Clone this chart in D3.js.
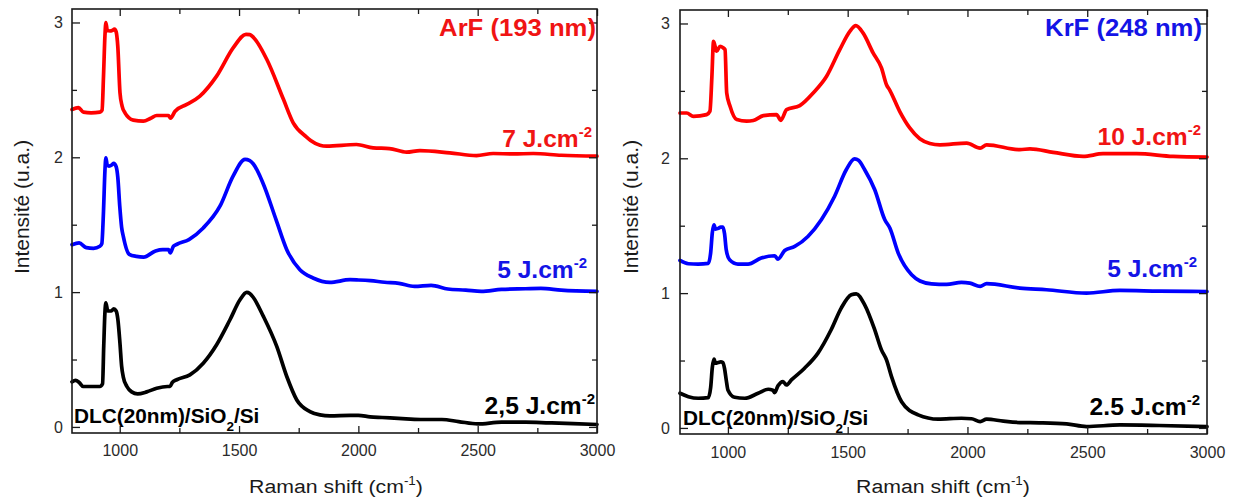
<!DOCTYPE html>
<html>
<head>
<meta charset="utf-8">
<script src="https://cdn.jsdelivr.net/npm/d3@7"></script>
<style>
  html, body { margin: 0; padding: 0; background: #fff; }
  svg { display: block; font-family: "Liberation Sans", Arial, sans-serif; }
</style>
</head>
<body>
<svg id="chart" width="1234" height="501"></svg>
<script>
// ---------------- DATA ----------------
const xMajorTicks = [1000, 1500, 2000, 2500, 3000];
const xMinorTicks = [1250, 1750, 2250, 2750];
const yMajorTicks = [0, 1, 2, 3];
const yMinorTicks = [0.5, 1.5, 2.5];

// ArF (193 nm) panel
const arfTitle = "ArF (193 nm)";
const arfLabels = ["2,5 J.cm", "5 J.cm", "7 J.cm"];

const arf25_x = [800, 815, 830, 847, 880, 917, 928, 933, 938, 942, 950, 965, 975, 985, 992, 1001, 1008, 1015, 1030, 1050, 1075, 1113, 1155, 1200, 1211, 1220, 1239, 1294, 1350, 1406, 1462, 1504, 1532, 1545, 1560, 1602, 1658, 1700, 1742, 1797, 1839, 1881, 1965, 2000, 2049, 2100, 2200, 2270, 2350, 2420, 2500, 2600, 2700, 2800, 2900, 3000];
const arf25_y = [0.335, 0.345, 0.33, 0.30, 0.30, 0.30, 0.32, 0.60, 0.85, 0.92, 0.86, 0.86, 0.875, 0.86, 0.80, 0.62, 0.45, 0.37, 0.30, 0.26, 0.245, 0.26, 0.287, 0.30, 0.30, 0.33, 0.35, 0.386, 0.473, 0.61, 0.795, 0.943, 0.998, 0.99, 0.96, 0.82, 0.597, 0.374, 0.20, 0.114, 0.089, 0.082, 0.085, 0.085, 0.075, 0.07, 0.06, 0.055, 0.055, 0.04, 0.022, 0.035, 0.035, 0.03, 0.025, 0.018];

const arf5_x = [800, 830, 860, 890, 917, 925, 932, 938, 942, 948, 955, 968, 975, 985, 992, 1000, 1008, 1015, 1040, 1070, 1100, 1150, 1180, 1205, 1212, 1225, 1240, 1290, 1350, 1420, 1475, 1525, 1545, 1560, 1600, 1655, 1700, 1755, 1810, 1880, 1965, 2000, 2050, 2110, 2170, 2235, 2305, 2375, 2450, 2515, 2600, 2700, 2765, 2850, 3000];
const arf5_y = [1.352, 1.365, 1.33, 1.325, 1.34, 1.36, 1.60, 1.90, 1.996, 1.94, 1.935, 1.945, 1.955, 1.93, 1.85, 1.64, 1.48, 1.414, 1.28, 1.265, 1.26, 1.305, 1.315, 1.315, 1.29, 1.34, 1.355, 1.39, 1.476, 1.637, 1.86, 1.984, 1.975, 1.95, 1.81, 1.538, 1.315, 1.166, 1.105, 1.072, 1.092, 1.09, 1.085, 1.073, 1.065, 1.042, 1.05, 1.023, 1.015, 1.005, 1.02, 1.025, 1.028, 1.015, 1.005];

const arf7_x = [800, 827, 848, 880, 917, 926, 932, 938, 942, 948, 959, 968, 978, 985, 992, 1001, 1010, 1022, 1057, 1099, 1130, 1155, 1204, 1213, 1232, 1281, 1336, 1406, 1476, 1529, 1545, 1560, 1616, 1686, 1727, 1783, 1800, 1839, 1867, 1992, 2062, 2130, 2202, 2258, 2383, 2495, 2565, 2650, 2733, 2850, 3000];
const arf7_y = [2.355, 2.368, 2.335, 2.33, 2.335, 2.35, 2.60, 2.90, 3.0, 2.94, 2.937, 2.94, 2.95, 2.93, 2.82, 2.48, 2.38, 2.33, 2.276, 2.268, 2.29, 2.31, 2.31, 2.29, 2.342, 2.392, 2.454, 2.602, 2.813, 2.912, 2.91, 2.89, 2.727, 2.43, 2.256, 2.15, 2.125, 2.09, 2.083, 2.095, 2.07, 2.065, 2.038, 2.05, 2.033, 2.013, 2.028, 2.025, 2.028, 2.015, 2.008];

// KrF (248 nm) panel
const krfTitle = "KrF (248 nm)";
const krfLabels = ["2.5 J.cm", "5 J.cm", "10 J.cm"];

const krf25_x = [800, 835, 876, 918, 928, 935, 942, 948, 960, 970, 979, 986, 993, 1000, 1028, 1070, 1126, 1168, 1188, 1195, 1209, 1230, 1244, 1265, 1320, 1376, 1431, 1473, 1515, 1536, 1571, 1613, 1641, 1662, 1683, 1725, 1794, 1878, 1975, 2017, 2053, 2080, 2150, 2219, 2300, 2414, 2497, 2636, 2800, 3000];
const krf25_y = [0.257, 0.232, 0.22, 0.225, 0.30, 0.45, 0.51, 0.48, 0.485, 0.49, 0.485, 0.44, 0.356, 0.282, 0.228, 0.22, 0.257, 0.287, 0.28, 0.262, 0.312, 0.344, 0.319, 0.356, 0.443, 0.555, 0.728, 0.889, 0.988, 0.995, 0.913, 0.728, 0.579, 0.505, 0.381, 0.195, 0.097, 0.065, 0.072, 0.068, 0.047, 0.065, 0.05, 0.04, 0.038, 0.03, 0.01, 0.022, 0.018, 0.01];

const krf5_x = [800, 835, 876, 918, 928, 935, 942, 948, 960, 970, 979, 986, 993, 1007, 1042, 1084, 1139, 1195, 1209, 1237, 1279, 1334, 1390, 1445, 1494, 1529, 1545, 1571, 1613, 1655, 1676, 1711, 1767, 1802, 1850, 1913, 1975, 2010, 2053, 2080, 2219, 2330, 2497, 2636, 2800, 3000];
const krf5_y = [1.242, 1.218, 1.215, 1.22, 1.30, 1.45, 1.507, 1.475, 1.48, 1.49, 1.49, 1.44, 1.322, 1.247, 1.215, 1.215, 1.26, 1.277, 1.252, 1.316, 1.346, 1.42, 1.544, 1.717, 1.915, 1.995, 1.985, 1.915, 1.767, 1.544, 1.483, 1.297, 1.136, 1.09, 1.069, 1.065, 1.079, 1.074, 1.05, 1.07, 1.037, 1.025, 1.0, 1.02, 1.015, 1.012];

const krf10_x = [800, 828, 856, 911, 925, 933, 940, 953, 967, 980, 988, 995, 1009, 1037, 1078, 1106, 1148, 1203, 1221, 1245, 1300, 1356, 1412, 1467, 1509, 1534, 1564, 1606, 1641, 1662, 1676, 1717, 1759, 1801, 1843, 1885, 1997, 2053, 2080, 2219, 2261, 2358, 2483, 2566, 2706, 2858, 3000];
const krf10_y = [2.336, 2.336, 2.311, 2.324, 2.35, 2.60, 2.868, 2.794, 2.831, 2.82, 2.806, 2.485, 2.386, 2.287, 2.275, 2.28, 2.316, 2.324, 2.282, 2.361, 2.391, 2.485, 2.609, 2.806, 2.942, 2.984, 2.93, 2.782, 2.67, 2.546, 2.504, 2.348, 2.225, 2.145, 2.11, 2.1, 2.113, 2.076, 2.1, 2.064, 2.07, 2.044, 2.014, 2.034, 2.034, 2.014, 2.009];

const seriesColors = ["#000000", "#0000ff", "#ff0000"];
const labelColors = ["#000000", "#1414e6", "#f01414"];

// ---------------- DRAW ----------------
const svg = d3.select("#chart");
const FONT = '"Liberation Sans", Arial, sans-serif';

const panels = [
  {
    title: arfTitle, titleColor: "#f01414", labels: arfLabels,
    series: [[arf25_x, arf25_y], [arf5_x, arf5_y], [arf7_x, arf7_y]],
    left: 72, right: 597, top: 9, bottom: 433,
    titleRight: 596, labelRights: [595, 587, 592], labelBase: [414, 278, 147],
    dlcX: 74, dlcBase: 423, yTitleX: 22, xTitleX: 336, ypad: 9, xpad: 12
  },
  {
    title: krfTitle, titleColor: "#1414e6", labels: krfLabels,
    series: [[krf25_x, krf25_y], [krf5_x, krf5_y], [krf10_x, krf10_y]],
    left: 680, right: 1207, top: 10, bottom: 434,
    titleRight: 1202, labelRights: [1200, 1197, 1201], labelBase: [415, 277, 145],
    dlcX: 683, dlcBase: 425, yTitleX: 631, xTitleX: 943, ypad: 10, xpad: 13
  }
];

panels.forEach(p => {
  const x = d3.scaleLinear().domain([800, 3000]).range([p.left, p.right]);
  const y = d3.scaleLinear().domain([-0.045, 3.1]).range([p.bottom, p.top]);
  const g = svg.append("g");

  // curves
  const line = d3.line()
    .x(d => x(d[0])).y(d => y(d[1]))
    .curve(d3.curveMonotoneX);
  p.series.forEach((s, i) => {
    const pts = s[0].map((v, k) => [v, s[1][k]]);
    g.append("path")
      .attr("d", line(pts))
      .attr("fill", "none")
      .attr("stroke", seriesColors[i])
      .attr("stroke-width", 3.7)
      .attr("stroke-linejoin", "round")
      .attr("stroke-linecap", "round");
  });

  const axisColor = "#1a1a1a";
  const styleAxis = sel => {
    sel.select(".domain").remove();
    sel.selectAll(".tick line").attr("stroke", axisColor).attr("stroke-width", 1.3);
    sel.selectAll(".tick text").attr("fill", "#2b2b2b").style("font-size", "16px").style("font-family", FONT);
  };

  // bottom axis (major + minor), inward ticks
  g.append("g").attr("transform", `translate(0,${p.bottom})`)
    .call(d3.axisBottom(x).tickValues(xMajorTicks).tickSize(-7).tickSizeOuter(0).tickPadding(p.xpad).tickFormat(d3.format("d")))
    .call(styleAxis);
  g.append("g").attr("transform", `translate(0,${p.bottom})`)
    .call(d3.axisBottom(x).tickValues(xMinorTicks).tickSize(-5).tickSizeOuter(0).tickFormat(""))
    .call(styleAxis);
  // top axis
  g.append("g").attr("transform", `translate(0,${p.top})`)
    .call(d3.axisTop(x).tickValues(xMajorTicks).tickSize(-7).tickSizeOuter(0).tickFormat(""))
    .call(styleAxis);
  g.append("g").attr("transform", `translate(0,${p.top})`)
    .call(d3.axisTop(x).tickValues(xMinorTicks).tickSize(-5).tickSizeOuter(0).tickFormat(""))
    .call(styleAxis);
  // left axis
  g.append("g").attr("transform", `translate(${p.left},0)`)
    .call(d3.axisLeft(y).tickValues(yMajorTicks).tickSize(-8).tickSizeOuter(0).tickPadding(p.ypad).tickFormat(d3.format("d")))
    .call(styleAxis);
  g.append("g").attr("transform", `translate(${p.left},0)`)
    .call(d3.axisLeft(y).tickValues(yMinorTicks).tickSize(-5).tickSizeOuter(0).tickFormat(""))
    .call(styleAxis);
  // right axis
  g.append("g").attr("transform", `translate(${p.right},0)`)
    .call(d3.axisRight(y).tickValues(yMajorTicks).tickSize(-8).tickSizeOuter(0).tickFormat(""))
    .call(styleAxis);
  g.append("g").attr("transform", `translate(${p.right},0)`)
    .call(d3.axisRight(y).tickValues(yMinorTicks).tickSize(-5).tickSizeOuter(0).tickFormat(""))
    .call(styleAxis);

  // frame
  g.append("rect")
    .attr("x", p.left).attr("y", p.top)
    .attr("width", p.right - p.left).attr("height", p.bottom - p.top)
    .attr("fill", "none").attr("stroke", axisColor).attr("stroke-width", 1.6);

  // title
  const tg = g.append("g").attr("transform", `translate(${p.titleRight},36) scale(1.07,1)`);
  tg.append("text").attr("text-anchor", "end")
    .attr("fill", p.titleColor).style("font-weight", "bold").style("font-size", "24px")
    .text(p.title);

  // series labels
  p.labels.forEach((lab, i) => {
    const lg = g.append("g").attr("transform", `translate(${p.labelRights[i]},${p.labelBase[i]}) scale(1.07,1)`);
    const t = lg.append("text").attr("text-anchor", "end")
      .attr("fill", labelColors[i]).style("font-weight", "bold").style("font-size", "23px");
    t.append("tspan").text(lab);
    t.append("tspan").attr("dy", -10).style("font-size", "14px").text("-2");
  });

  // sample label
  const dg = g.append("g").attr("transform", `translate(${p.dlcX},${p.dlcBase}) scale(1.04,1)`);
  const dt = dg.append("text").attr("fill", "#000").style("font-weight", "bold").style("font-size", "20px");
  dt.append("tspan").text("DLC(20nm)/SiO");
  dt.append("tspan").attr("dy", 8).style("font-size", "13px").text("2");
  dt.append("tspan").attr("dy", -8).text("/Si");

  // x axis title
  const xg = g.append("g").attr("transform", `translate(${p.xTitleX},493) scale(1.12,1)`);
  const xt = xg.append("text").attr("text-anchor", "middle").attr("fill", "#1a1a1a").style("font-size", "19px");
  xt.append("tspan").text("Raman shift (cm");
  xt.append("tspan").attr("dy", -8).style("font-size", "12px").text("-1");
  xt.append("tspan").attr("dy", 8).text(")");

  // y axis title
  g.append("text")
    .attr("transform", `translate(${p.yTitleX},207) rotate(-90)`)
    .attr("text-anchor", "middle").attr("dy", "0.35em")
    .attr("fill", "#1a1a1a").style("font-size", "21px")
    .text("Intensité (u.a.)");
});
</script>
</body>
</html>
